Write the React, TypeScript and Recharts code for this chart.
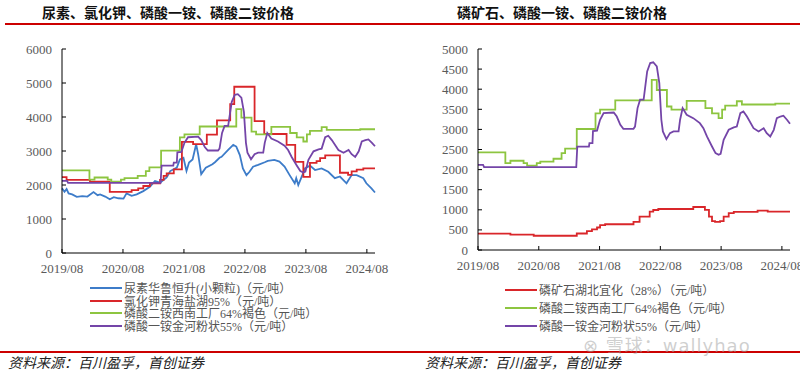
import { Line, LineChart, XAxis, YAxis } from "recharts";

// x positions are months since 2019/08
const xTickMonths = [0, 12, 24, 36, 48, 60];
const xTickLabels = ["2019/08", "2020/08", "2021/08", "2022/08", "2023/08", "2024/08"];
const leftYTicks = [0, 1000, 2000, 3000, 4000, 5000, 6000];
const rightYTicks = [0, 500, 1000, 1500, 2000, 2500, 3000, 3500, 4000, 4500, 5000];

// 尿素华鲁恒升(小颗粒)
const ureaMonths = [0, 0.5, 0.9, 1.3, 2.0, 2.9, 4.0, 5.0, 6.2, 7.0, 7.5, 8.5, 9.4, 10.2, 11.1, 12.1, 12.7, 13.7, 14.7, 16.0, 17.3, 18.3, 19.3, 20.6, 21.3, 22.6, 23.2, 23.9, 24.5, 25.0, 25.7, 26.4, 26.8, 27.4, 28.3, 29.6, 30.1, 31.0, 31.4, 32.7, 33.7, 34.3, 35.0, 35.6, 36.3, 36.9, 37.6, 38.6, 39.9, 40.5, 41.8, 42.8, 43.8, 44.8, 45.8, 46.1, 46.5, 47.3, 47.8, 48.8, 49.8, 51.1, 52.4, 53.7, 54.7, 56.0, 57.0, 58.0, 59.3, 59.9, 60.9, 61.6];
const ureaValues = [1900, 1800, 1880, 1750, 1725, 1650, 1670, 1660, 1790, 1700, 1725, 1660, 1580, 1640, 1610, 1600, 1755, 1680, 1725, 1820, 1950, 2120, 2070, 2220, 2410, 2510, 2750, 2800, 2410, 2660, 2750, 3200, 2900, 2320, 2510, 2610, 2670, 2800, 2830, 3030, 3180, 3130, 2880, 2490, 2290, 2390, 2540, 2590, 2670, 2710, 2740, 2690, 2540, 2290, 2050, 2200, 2000, 2290, 2490, 2570, 2440, 2490, 2390, 2200, 2250, 2050, 2290, 2290, 2200, 2050, 1900, 1780];

// 氯化钾青海盐湖95%
const kclMonths = [0, 0.9, 5.5, 9.4, 13.7, 15.0, 16.0, 17.3, 19.3, 20.0, 20.6, 22.0, 23.6, 25.8, 28.5, 30.5, 33.1, 33.9, 37.9, 39.8, 44.2, 45.9, 47.5, 48.8, 50.1, 50.8, 51.8, 54.7, 56.3, 57.0, 58.0, 59.3, 61.6];
const kclValues = [2230, 2150, 2100, 1800, 1850, 1900, 1970, 2050, 2150, 2270, 2340, 2460, 3270, 3200, 3480, 3900, 4380, 4890, 3880, 3500, 3180, 2680, 2240, 2650, 2700, 2790, 2870, 2360, 2300, 2400, 2450, 2490, 2490];

// 磷酸二铵西南工厂64%褐色
const dapMonths = [0, 5.4, 6.4, 9.0, 9.7, 11.6, 12.3, 14.9, 16.5, 17.2, 19.5, 23.2, 24.1, 27.1, 34.3, 35.3, 37.3, 38.2, 41.2, 44.9, 46.2, 47.5, 48.2, 48.8, 51.1, 52.1, 58.7, 61.6];
const dapValues = [2430, 2160, 2220, 2160, 2100, 2160, 2200, 2270, 2410, 2520, 3010, 3400, 3490, 3720, 4230, 3980, 3570, 3490, 3710, 3530, 3400, 3280, 3490, 3590, 3700, 3620, 3640, 3640];

// 磷酸一铵金河粉状55%
const mapMonths = [0, 1.0, 1.2, 19.4, 19.6, 21.9, 22.0, 22.6, 22.7, 23.5, 24.1, 24.8, 26.8, 27.4, 28.1, 28.7, 30.7, 31.0, 31.5, 32.0, 32.7, 33.4, 34.0, 34.6, 35.3, 35.8, 36.2, 36.5, 37.2, 37.9, 38.6, 39.6, 39.9, 40.4, 41.2, 42.5, 43.8, 44.5, 45.2, 46.2, 46.9, 47.5, 47.9, 48.5, 49.5, 50.5, 51.1, 51.8, 52.4, 53.1, 54.4, 55.4, 56.4, 57.0, 57.7, 58.4, 59.0, 59.7, 60.3, 61.0, 61.6];
const mapValues = [2120, 2120, 2060, 2060, 2570, 2570, 2660, 2660, 2960, 2970, 3240, 3405, 3420, 3320, 3115, 3015, 3015, 3070, 3530, 3740, 3740, 4440, 4650, 4670, 4570, 4150, 3240, 2950, 2757, 2907, 2950, 2950, 3240, 3530, 3364, 3280, 3156, 3030, 2824, 2575, 2409, 2367, 2392, 2741, 2990, 3050, 3070, 3405, 3447, 3320, 3030, 2950, 3030, 2907, 2824, 2990, 3280, 3320, 3340, 3240, 3140];

// 磷矿石湖北宜化（28%）
const rockMonths = [0, 6.4, 11.0, 19.5, 21.5, 22.5, 23.5, 24.1, 25.1, 30.7, 31.9, 33.9, 34.6, 35.6, 42.5, 44.8, 45.6, 46.2, 46.8, 47.8, 48.5, 49.5, 50.5, 55.2, 57.2, 61.6];
const rockValues = [405, 380, 355, 410, 470, 515, 560, 620, 640, 700, 830, 955, 995, 1020, 1070, 1000, 830, 720, 700, 720, 830, 915, 947, 980, 955, 955];

const BLUE = "#3d7cc9";
const RED = "#d9262a";
const GREEN = "#8dc540";
const PURPLE = "#7445a8";

const toPoints = (ms: number[], vs: number[]) => ms.map((m, i) => ({ m, v: vs[i] }));

const leftSeries = [
  { name: "尿素华鲁恒升(小颗粒)（元/吨）", color: BLUE, data: toPoints(ureaMonths, ureaValues), type: "linear" },
  { name: "氯化钾青海盐湖95%（元/吨）", color: RED, data: toPoints(kclMonths, kclValues), type: "stepAfter" },
  { name: "磷酸二铵西南工厂64%褐色（元/吨）", color: GREEN, data: toPoints(dapMonths, dapValues), type: "stepAfter" },
  { name: "磷酸一铵金河粉状55%（元/吨）", color: PURPLE, data: toPoints(mapMonths, mapValues), type: "linear" },
];

const rightSeries = [
  { name: "磷矿石湖北宜化（28%）（元/吨）", color: RED, data: toPoints(rockMonths, rockValues), type: "stepAfter" },
  { name: "磷酸二铵西南工厂64%褐色（元/吨）", color: GREEN, data: toPoints(dapMonths, dapValues), type: "stepAfter" },
  { name: "磷酸一铵金河粉状55%（元/吨）", color: PURPLE, data: toPoints(mapMonths, mapValues), type: "linear" },
];

const SERIF = '"Liberation Serif", "Noto Sans CJK SC", serif';
const GAP = 10;

function YTick(props: any) {
  const { x, y, payload } = props;
  return (
    <g>
      <line x1={x + GAP} x2={x + GAP + 4} y1={y} y2={y} stroke="#000" />
      <text x={x} y={y} dy={4.5} textAnchor="end" fill="#5a5a5a" fontSize={13} fontFamily={SERIF}>
        {payload.value}
      </text>
    </g>
  );
}

function XTick(props: any) {
  const { x, y, payload } = props;
  const axisY = y - GAP;
  const label = xTickLabels[xTickMonths.indexOf(payload.value)];
  return (
    <g>
      <line x1={x} x2={x} y1={axisY} y2={axisY - 4} stroke="#000" />
      <text x={x} y={axisY + 20} textAnchor="middle" fill="#5a5a5a" fontSize={13} fontFamily={SERIF}>
        {label}
      </text>
    </g>
  );
}

function PriceChart({ series, yMax, yTicks, yWidth, right, xHeight }: any) {
  return (
    <LineChart width={400} height={290} margin={{ top: 49, right, bottom: 0, left: 0 }}>
      <XAxis
        type="number"
        dataKey="m"
        domain={[0, 61.6]}
        ticks={xTickMonths}
        tick={XTick}
        tickSize={0}
        tickMargin={GAP}
        height={xHeight}
        axisLine={{ stroke: "#000" }}
        tickLine={false}
        interval={0}
      />
      <YAxis
        type="number"
        domain={[0, yMax]}
        ticks={yTicks}
        tick={YTick}
        tickSize={0}
        tickMargin={GAP}
        width={yWidth}
        axisLine={{ stroke: "#000" }}
        tickLine={false}
        interval={0}
      />
      {series.map((s: any) => (
        <Line
          key={s.name}
          data={s.data}
          dataKey="v"
          name={s.name}
          type={s.type}
          stroke={s.color}
          strokeWidth={1.8}
          dot={false}
          isAnimationActive={false}
        />
      ))}
    </LineChart>
  );
}

function LegendBlock({ series, left, top, step }: any) {
  return (
    <>
      {series.map((s: any, i: number) => (
        <div
          key={s.name}
          style={{
            position: "absolute",
            left,
            top: top + i * step - 8,
            height: 16,
            display: "flex",
            alignItems: "center",
            fontFamily: SERIF,
            fontSize: 12,
            color: "#555",
            whiteSpace: "nowrap",
          }}
        >
          <span style={{ display: "inline-block", width: 32, height: 2, background: s.color, marginRight: 2 }} />
          {s.name}
        </div>
      ))}
    </>
  );
}

const abs = (o: any) => ({ position: "absolute" as const, ...o });

export default function App() {
  return (
    <div
      style={{
        position: "relative",
        width: 800,
        height: 371,
        background: "#fff",
        overflow: "hidden",
        fontFamily: '"Noto Sans CJK SC", sans-serif',
      }}
    >
      <style>{`body{margin:0}`}</style>
      <div style={abs({ left: 42, top: 3, fontSize: 14, lineHeight: "18px", fontWeight: 700, color: "#111" })}>
        尿素、氯化钾、磷酸一铵、磷酸二铵价格
      </div>
      <div style={abs({ left: 457, top: 3, fontSize: 14, lineHeight: "18px", fontWeight: 700, color: "#111" })}>
        磷矿石、磷酸一铵、磷酸二铵价格
      </div>
      <div style={abs({ left: 5, top: 23, width: 795, height: 2, background: "#cc0000" })} />

      <div style={abs({ left: 0, top: 0 })}>
        <PriceChart series={leftSeries} yMax={6000} yTicks={leftYTicks} yWidth={62} right={25} xHeight={37} />
      </div>
      <div style={abs({ left: 400, top: 0 })}>
        <PriceChart series={rightSeries} yMax={5000} yTicks={rightYTicks} yWidth={78} right={10} xHeight={40} />
      </div>

      <LegendBlock series={leftSeries} left={90} top={288} step={12.7} />
      <LegendBlock series={rightSeries} left={505} top={290} step={18} />

      <div style={abs({ left: 0, top: 351, width: 800, height: 2, background: "#cc0000" })} />
      <div
        style={abs({
          left: 583,
          top: 335,
          fontSize: 18,
          lineHeight: "22px",
          letterSpacing: 1,
          color: "rgba(160,160,160,0.5)",
          fontFamily: '"DejaVu Sans", "Noto Sans CJK SC", sans-serif',
          whiteSpace: "nowrap",
        })}
      >
        ⊗ 雪球：wallyhao
      </div>
      <div style={abs({ left: 8, top: 353, fontSize: 14, lineHeight: "18px", fontStyle: "italic", color: "#222" })}>
        资料来源：百川盈孚，首创证券
      </div>
      <div style={abs({ left: 425, top: 353, fontSize: 14, lineHeight: "18px", fontStyle: "italic", color: "#222" })}>
        资料来源：百川盈孚，首创证券
      </div>
    </div>
  );
}
